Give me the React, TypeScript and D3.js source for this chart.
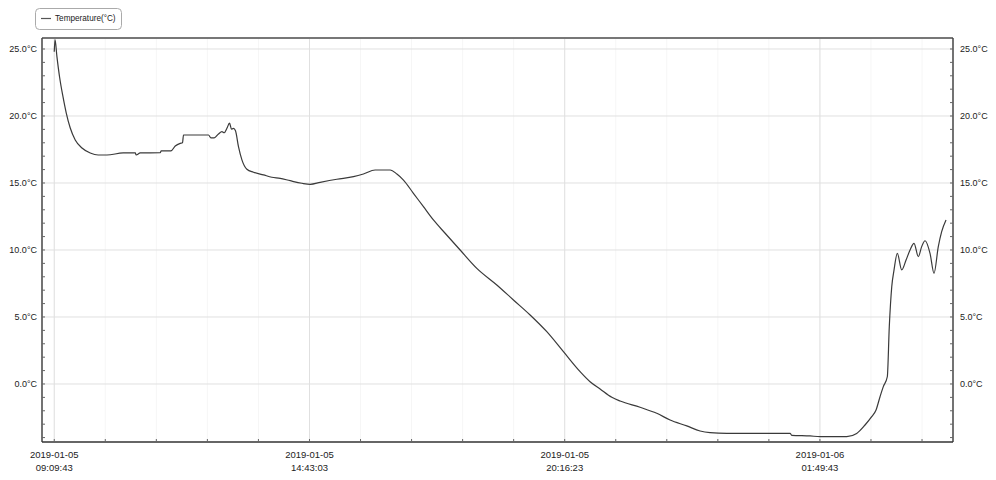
import { useMemo } from "react";
import * as d3 from "d3";

// minutes after 2019-01-05 09:09:43, and the reading at that moment
const minutes = [
  0, 1, 3.5, 6.9, 11.4, 15.7, 20.9, 27.4, 36.2, 47, 57.4, 68.8, 90, 105.8, 107, 112.3,
  138.4, 139.7, 152.4, 158, 164.5, 167.5, 168.8, 201.5, 204.6, 208.9, 214.5, 219, 222,
  225.5, 228.9, 231.5, 234.1, 236.7, 240.6, 245.1, 251.6, 260.2, 273.3, 284.2, 295.1,
  308.1, 323.4, 334.3, 347.3, 369.1, 390.8, 403.8, 419.1, 438.7, 447.5, 456.1, 469.1,
  482.2, 495.2, 510.5, 530.1, 551.9, 578, 599.7, 621.5, 643.3, 665, 686.8, 699.8, 712.9,
  728.2, 739, 765.1, 786.9, 804.3, 826.1, 843.5, 856.5, 878.3, 961, 963.2, 987.1, 1000.2,
  1035, 1048, 1058.9, 1067.6, 1073.3, 1078.5, 1082.8, 1088, 1090.6, 1093.8, 1096.8,
  1101.1, 1106.8, 1112.5, 1117.7, 1122.9, 1128.5, 1132.9, 1137.3, 1143.8, 1149, 1154.6,
  1159, 1164.7,
];
const temps = [
  24.8, 25.7, 24.43, 22.93, 21.44, 20.22, 19.1, 18.21, 17.61, 17.24, 17.09, 17.09, 17.24,
  17.24, 17.09, 17.24, 17.26, 17.39, 17.39, 17.76, 17.96, 18.0, 18.58, 18.58, 18.36,
  18.36, 18.66, 18.83, 18.75, 19.08, 19.46, 19.01, 19.08, 18.9, 17.71, 16.72, 16.02,
  15.8, 15.6, 15.43, 15.35, 15.17, 14.98, 14.9, 15.05, 15.28, 15.47, 15.67, 15.97, 15.97,
  15.67, 15.22, 14.23, 13.23, 12.24, 11.25, 10.0, 8.63, 7.39, 6.27, 5.15, 3.9, 2.41, 0.92,
  0.17, -0.37, -0.99, -1.27, -1.74, -2.19, -2.69, -3.13, -3.51, -3.63, -3.68, -3.68,
  -3.83, -3.88, -3.93, -3.93, -3.69, -3.06, -2.44, -1.94, -0.95, -0.2, 0.54, 4.28, 7.26,
  8.51, 9.75, 8.51, 9.25, 10.0, 10.5, 9.5, 10.25, 10.69, 9.75, 8.26, 10.25, 11.37, 12.24,
];

const xTickLabels = [
  "2019-01-05 09:09:43",
  "2019-01-05 14:43:03",
  "2019-01-05 20:16:23",
  "2019-01-06 01:49:43",
];
const yTicks = [0, 5, 10, 15, 20, 25];
const seriesName = "Temperature(°C)";

const W = 996;
const H = 480;
const left = 42;
const right = 953;
const top = 38;
const bottom = 442;
const font = "'Liberation Sans', Arial, Helvetica, sans-serif";

const parse = d3.timeParse("%Y-%m-%d %H:%M:%S");

export default function App() {
  const start = parse(xTickLabels[0])!;
  const majors = xTickLabels.map((s) => parse(s)!);

  const x = d3
    .scaleTime()
    .domain([d3.timeMinute.offset(start, -15.7), new Date(+start + 1173.8 * 60000)])
    .range([left, right]);
  const y = d3.scaleLinear().domain([-4.33, 25.82]).range([bottom, top]);

  const points = minutes.map((m, i) => [new Date(+start + m * 60000), temps[i]] as [Date, number]);

  const line = d3
    .line<[Date, number]>()
    .x((d) => x(d[0]))
    .y((d) => y(d[1]))
    .curve(d3.curveMonotoneX);

  // five minor steps between the labelled times
  const step = (+majors[1] - +majors[0]) / 5;
  const minors = useMemo(() => {
    const out: Date[] = [];
    const end = +x.domain()[1];
    for (let t = +majors[0]; t <= end; t += step) out.push(new Date(t));
    return out;
  }, []);
  const yMinor = d3.range(-4, 26, 1);

  const fmtDay = d3.timeFormat("%Y-%m-%d");
  const fmtTime = d3.timeFormat("%H:%M:%S");

  return (
    <svg
      width={W}
      height={H}
      style={{ position: "absolute", left: 0, top: 0, background: "#fff" }}
      fontFamily={font}
    >
      {/* minor vertical grid */}
      {minors.map((d, i) => (
        <line key={"mg" + i} x1={x(d)} x2={x(d)} y1={top} y2={bottom} stroke="#f6f6f6" />
      ))}
      {/* major grid */}
      {majors.map((d, i) => (
        <line key={"vg" + i} x1={x(d)} x2={x(d)} y1={top} y2={bottom} stroke="#e0e0e0" />
      ))}
      {yTicks.map((v) => (
        <line key={"hg" + v} x1={left} x2={right} y1={y(v)} y2={y(v)} stroke="#e0e0e0" />
      ))}

      {/* series */}
      <path d={line(points)!} fill="none" stroke="#3a3a3a" strokeWidth={1.2} strokeLinejoin="round" />

      {/* frame */}
      <line x1={left} x2={right} y1={top} y2={top} stroke="#777" strokeWidth={2} />
      <line x1={left} x2={left} y1={top} y2={bottom} stroke="#444" strokeWidth={1.5} />
      <line x1={right} x2={right} y1={top} y2={bottom} stroke="#444" strokeWidth={1.5} />
      <line x1={left} x2={right} y1={bottom} y2={bottom} stroke="#333" strokeWidth={1.5} />

      {/* ticks */}
      {yMinor.map((v) => (
        <g key={"yt" + v}>
          <line x1={left} x2={left + 3} y1={y(v)} y2={y(v)} stroke="#666" />
          <line x1={right - 3} x2={right} y1={y(v)} y2={y(v)} stroke="#666" />
        </g>
      ))}
      {minors.map((d, i) => (
        <line key={"xt" + i} x1={x(d)} x2={x(d)} y1={bottom - 3} y2={bottom} stroke="#666" />
      ))}

      {/* labels */}
      {yTicks.map((v) => (
        <g key={"yl" + v} fontSize={9} fill="#222">
          <text x={left - 5} y={y(v)} dy="0.35em" textAnchor="end">
            {v.toFixed(1)}°C
          </text>
          <text x={right + 7} y={y(v)} dy="0.35em">
            {v.toFixed(1)}°C
          </text>
        </g>
      ))}
      {majors.map((d, i) => (
        <text key={"xl" + i} x={x(d)} textAnchor="middle" fontSize={9.5} fill="#222">
          <tspan x={x(d)} y={457.5}>
            {fmtDay(d)}
          </tspan>
          <tspan x={x(d)} y={470.5}>
            {fmtTime(d)}
          </tspan>
        </text>
      ))}

      {/* legend */}
      <rect x={35.5} y={8.5} width={86} height={21} rx={4} fill="#fff" stroke="#aaa" />
      <line x1={41} x2={51} y1={18.5} y2={18.5} stroke="#555" strokeWidth={1.2} />
      <text x={55} y={18.5} dy="0.35em" fontSize={8.2} fill="#222">
        {seriesName}
      </text>
    </svg>
  );
}
